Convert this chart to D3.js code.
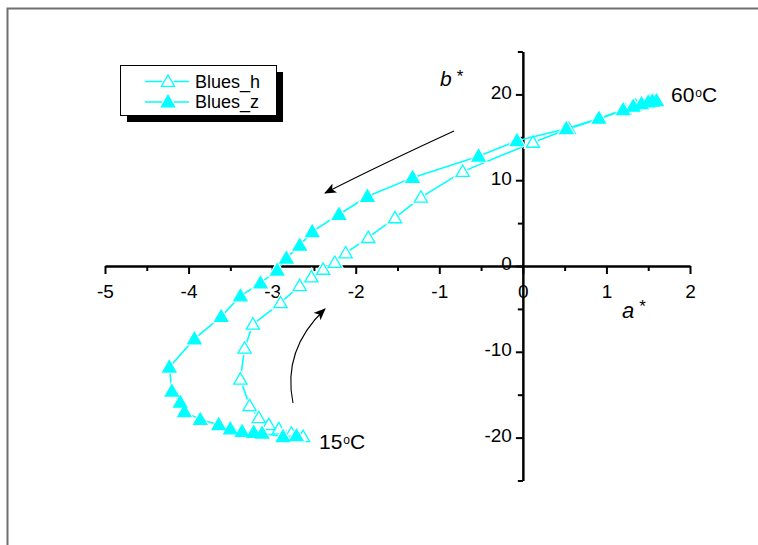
<!DOCTYPE html>
<html><head><meta charset="utf-8">
<script src="https://cdn.jsdelivr.net/npm/d3@7"></script>
<style>body{margin:0;background:#fff}svg{display:block}text{font-family:Arial,"Liberation Sans",sans-serif}</style>
</head><body>
<svg id="c" width="758" height="545"></svg>
<script>
// Blues_h (open triangles), ordered 15°C -> 60°C
const hA = [-2.63,-2.77,-2.92,-3.04,-3.16,-3.27,-3.38,-3.33,-3.23,-2.90,-2.67,-2.53,-2.39,-2.25,-2.12,-1.85,-1.53,-1.22,-0.72,0.12,0.55,0.90,1.22,1.35,1.42,1.48,1.52,1.56,1.60];
const hB = [-19.9,-19.5,-19.0,-18.5,-17.7,-16.3,-13.2,-9.6,-6.8,-4.3,-2.3,-1.3,-0.4,0.4,1.5,3.3,5.6,8.0,11.0,14.4,16.0,17.1,18.2,18.7,18.9,19.0,19.2,19.3,19.3];
// Blues_z (filled triangles), ordered 15°C -> 60°C
const zA = [-2.71,-2.87,-3.12,-3.22,-3.36,-3.50,-3.64,-3.86,-4.05,-4.10,-4.20,-4.23,-3.93,-3.61,-3.38,-3.14,-2.94,-2.83,-2.67,-2.52,-2.20,-1.86,-1.32,-0.53,-0.07,0.52,0.91,1.20,1.32,1.42,1.50,1.55,1.60];
const zB = [-19.8,-19.9,-19.5,-19.4,-19.3,-19.0,-18.5,-17.9,-17.0,-15.9,-14.6,-11.8,-8.5,-5.9,-3.5,-2.0,-0.5,0.9,2.4,4.0,6.0,8.1,10.3,12.8,14.6,16.0,17.2,18.2,18.6,18.9,19.1,19.2,19.25];
const seriesNames = ["Blues_h","Blues_z"];
const xMajor = [-5,-4,-3,-2,-1,0,1,2];
const xMinor = [-4.5,-3.5,-2.5,-1.5,-0.5,0.5,1.5];
const yMajor = [-20,-10,0,10,20];
const yMinor = [-25,-15,-5,5,15,25];

const svg = d3.select("#c");
const col = "#00ffff";
const x = d3.scaleLinear().domain([-5,2]).range([105,690]);
const y = d3.scaleLinear().domain([-25,25]).range([480.5,51.5]);
const noLabel = () => "";
const fmt = d => d<0 ? "-"+Math.abs(d) : String(d);

// frame
svg.append("rect").attr("x",7.5).attr("y",8.5).attr("width",770).attr("height",560)
  .attr("fill","none").attr("stroke","#707070").attr("stroke-width",2);

// axes
const x0 = x(0), y0 = y(0);
const gx = svg.append("g").attr("transform",`translate(0,${y0})`);
gx.call(d3.axisBottom(x).tickValues(xMajor).tickSize(8).tickFormat(fmt).tickSizeOuter(0));
gx.append("g").call(d3.axisBottom(x).tickValues(xMinor).tickSize(5).tickFormat(noLabel).tickSizeOuter(0));
gx.selectAll("path.domain").attr("stroke","#000").attr("stroke-width",2);
gx.selectAll(".tick line").attr("stroke","#000").attr("stroke-width",2);
gx.selectAll(".tick text").attr("font-size",19).attr("fill","#000").attr("dy","0.55em").attr("y",22);

const gy = svg.append("g").attr("transform",`translate(${x0},0)`);
gy.call(d3.axisLeft(y).tickValues(yMajor).tickSize(7).tickFormat(fmt).tickSizeOuter(0));
gy.append("g").call(d3.axisLeft(y).tickValues(yMinor).tickSize(5).tickFormat(noLabel).tickSizeOuter(0));
gy.selectAll("path.domain").attr("stroke","#000").attr("stroke-width",2);
gy.selectAll(".tick line").attr("stroke","#000").attr("stroke-width",2);
gy.selectAll(".tick text").attr("font-size",19).attr("fill","#000").attr("x",-11).attr("dy","0.2em");

const tri = d3.symbol().type(d3.symbolTriangle).size(75);
const triBg = d3.symbol().type(d3.symbolTriangle).size(160);
const line = d3.line().x(d=>x(d[0])).y(d=>y(d[1]));

function drawSeries(A,B,filled){
  const pts = A.map((a,i)=>[a,B[i]]);
  svg.append("path").attr("d",line(pts)).attr("fill","none").attr("stroke",col).attr("stroke-width",1.6);
  const g = svg.append("g");
  g.selectAll("path.bg").data(pts).join("path").attr("class","bg")
    .attr("transform",d=>`translate(${x(d[0])},${y(d[1])+1})`).attr("d",triBg).attr("fill","#fff");
  g.selectAll("path.m").data(pts).join("path").attr("class","m")
    .attr("transform",d=>`translate(${x(d[0])},${y(d[1])+1})`).attr("d",tri)
    .attr("fill",filled?col:"#fff").attr("stroke",col).attr("stroke-width",1.3);
}
drawSeries(hA,hB,false);
drawSeries(zA,zB,true);

// arrows
const defs = svg.append("defs");
defs.append("marker").attr("id","ah").attr("viewBox","0 0 12 10").attr("refX",11).attr("refY",5)
  .attr("markerWidth",12).attr("markerHeight",10).attr("markerUnits","userSpaceOnUse").attr("orient","auto")
  .append("path").attr("d","M0,0 L12,5 L0,10 L3,5 Z").attr("fill","#000");
svg.append("path").attr("d","M454,131 Q380,165 325,193").attr("fill","none").attr("stroke","#000")
  .attr("stroke-width",1.1).attr("marker-end","url(#ah)");
svg.append("path").attr("d","M293,403 Q282,350 325,309").attr("fill","none").attr("stroke","#000")
  .attr("stroke-width",1.1).attr("marker-end","url(#ah)");

// axis titles
const bt = svg.append("text").attr("x",440).attr("y",86).attr("font-size",21);
bt.append("tspan").attr("font-style","italic").text("b");
bt.append("tspan").attr("dx",5).attr("dy",-4).attr("font-size",17).text("*");
const at = svg.append("text").attr("x",622).attr("y",318).attr("font-size",22);
at.append("tspan").attr("font-style","italic").text("a");
at.append("tspan").attr("dx",5).attr("dy",-6).attr("font-size",17).text("*");

// temperature labels
function tempLabel(tx,ty,num){
  const t = svg.append("text").attr("x",tx).attr("y",ty).attr("font-size",21);
  t.append("tspan").text(num);
  t.append("tspan").attr("font-size",12).attr("dx",1).attr("dy",-5).text("o");
  t.append("tspan").attr("dy",5).text("C");
}
tempLabel(671,102,"60");
tempLabel(319,449,"15");

// legend
svg.append("rect").attr("x",127).attr("y",72).attr("width",156).attr("height",50).attr("fill","#000");
svg.append("rect").attr("x",120.5).attr("y",65.5).attr("width",156).attr("height",50)
  .attr("fill","#fff").attr("stroke","#000").attr("stroke-width",1);
const leg = [[81.5,false],[102,true]];
leg.forEach((L,i)=>{
  svg.append("line").attr("x1",145).attr("x2",189).attr("y1",L[0]).attr("y2",L[0]).attr("stroke",col).attr("stroke-width",1.6);
  svg.append("path").attr("transform",`translate(168,${L[0]+1})`).attr("d",triBg).attr("fill","#fff");
  svg.append("path").attr("transform",`translate(168,${L[0]+1})`).attr("d",tri)
    .attr("fill",L[1]?col:"#fff").attr("stroke",col).attr("stroke-width",1.3);
  svg.append("text").attr("x",195).attr("y",L[0]+6).attr("font-size",18).text(seriesNames[i]);
});
</script>
</body></html>
